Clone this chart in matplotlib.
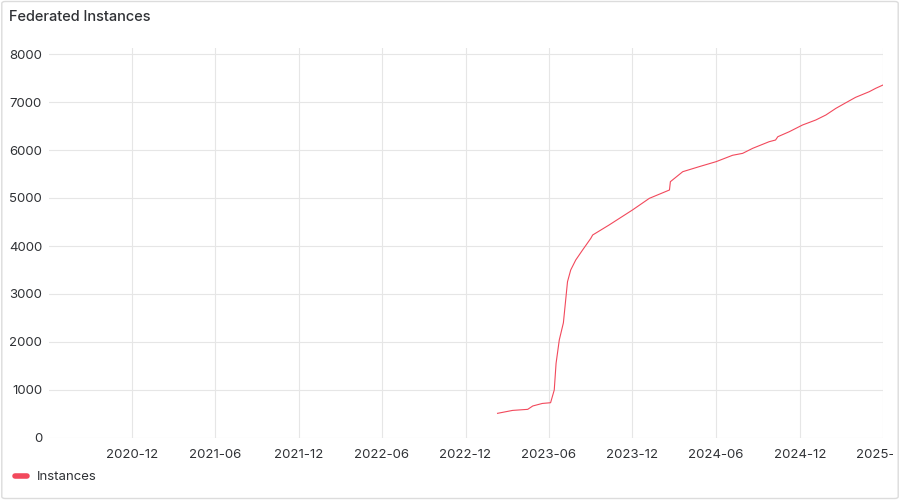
import numpy as np
import pandas as pd
import matplotlib
matplotlib.use("Agg")
import matplotlib.pyplot as plt
import matplotlib.dates as mdates
from matplotlib.patches import FancyBboxPatch
from matplotlib.lines import Line2D
from matplotlib.transforms import Bbox, TransformedBbox

plt.rcParams['font.family'] = ['Inter', 'DejaVu Sans']

# valores
fechas = ['2023-02-09', '2023-03-14', '2023-04-16', '2023-04-27', '2023-05-18',
          '2023-06-05', '2023-06-13', '2023-06-17', '2023-06-24', '2023-07-03',
          '2023-07-12', '2023-07-19', '2023-07-30', '2023-08-14', '2023-09-01',
          '2023-09-05', '2023-10-11', '2023-12-01', '2024-01-07', '2024-02-20',
          '2024-02-22', '2024-03-20', '2024-04-25', '2024-06-01', '2024-07-07',
          '2024-07-29', '2024-08-20', '2024-09-25', '2024-10-09', '2024-10-14',
          '2024-11-08', '2024-12-07', '2025-01-05', '2025-01-27', '2025-02-18',
          '2025-03-12', '2025-04-02', '2025-05-02', '2025-05-16', '2025-06-01']
instancias = [514, 575, 597, 667, 720,
              735, 1000, 1556, 2042, 2400,
              3256, 3500, 3708, 3917, 4160,
              4229, 4438, 4750, 4993, 5167,
              5340, 5548, 5653, 5757, 5890,
              5930, 6035, 6173, 6208, 6277,
              6381, 6521, 6625, 6729, 6868,
              6986, 7097, 7215, 7285, 7354]
ticks_y = [0, 1000, 2000, 3000, 4000, 5000, 6000, 7000, 8000]
ticks_x = ['2020-12-01', '2021-06-01', '2021-12-01', '2022-06-01', '2022-12-01',
           '2023-06-01', '2023-12-01', '2024-06-01', '2024-12-01', '2025-06-01']

texto = '#303236'
rejilla = '#e6e6e6'
rojo = '#F2495C'

fig = plt.figure(figsize=(9, 5), dpi=100)
fig.patch.set_facecolor('white')
borde = FancyBboxPatch((0.002, 0.003), 0.996, 0.994, boxstyle='round,pad=0,rounding_size=0.004',
                       transform=fig.transFigure, facecolor='none', edgecolor='#dcdcdc', linewidth=1)
fig.patches.append(borde)

fig.text(9/900, 1 - 17/500, 'Federated Instances', fontsize=10.5, color=texto,
         va='center', ha='left', fontweight='medium')

ax = fig.add_axes([49/900, 1 - 438/500, (883-49)/900, (438-48)/500])
x = pd.to_datetime(fechas)
ax.plot(x, instancias, color=rojo, linewidth=0.8)

ax.set_xlim(pd.Timestamp('2020-06-03'), pd.Timestamp('2025-06-01'))
ax.set_ylim(0, 8125)
ax.set_yticks(ticks_y)
ax.set_xticks(pd.to_datetime(ticks_x))
ax.xaxis.set_major_formatter(mdates.DateFormatter('%Y-%m'))
ax.grid(True, color=rejilla, linewidth=0.8)
ax.set_axisbelow(True)
for s in ax.spines.values():
    s.set_visible(False)
ax.tick_params(length=0, labelsize=9.5, labelcolor=texto)
ax.tick_params(axis='y', pad=5)
ax.tick_params(axis='x', pad=8)

# la ultima etiqueta queda cortada por el borde del panel, como en Grafana
caja = TransformedBbox(Bbox([[0, 0], [893/900, 1]]), fig.transFigure)
fig.canvas.draw()
ultima = ax.get_xticklabels()[-1]
ultima.set_clip_on(True)
ultima.set_clip_box(caja)

h = Line2D([], [], color=rojo, linewidth=4, solid_capstyle='round')
fig.legend([h], ['Instances'], loc='center left', bbox_to_anchor=(3/900, 1 - 477/500),
           frameon=False, fontsize=9.5, handlelength=0.9, handletextpad=0.8, labelcolor=texto)

fig.savefig('out.png', dpi=100)
